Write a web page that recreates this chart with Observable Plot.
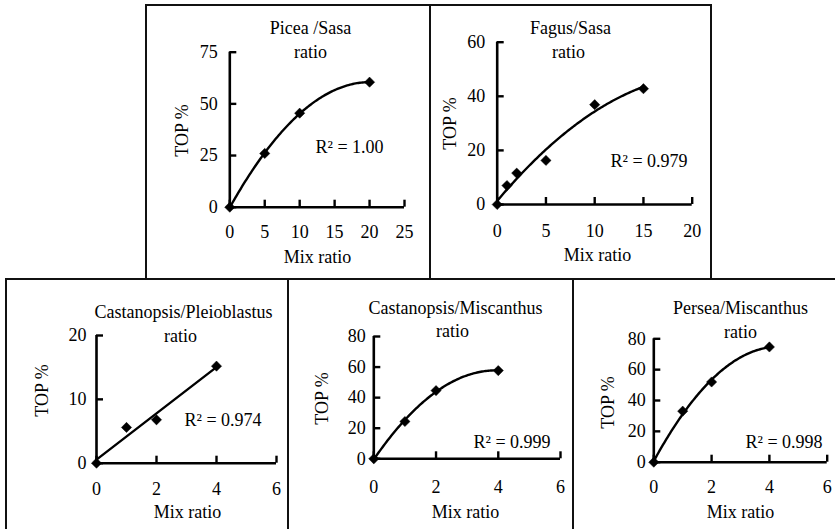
<!DOCTYPE html>
<html><head><meta charset="utf-8">
<script src="https://cdn.jsdelivr.net/npm/d3@7"></script>
<script src="https://cdn.jsdelivr.net/npm/@observablehq/plot@0.6"></script>
<style>
html,body{margin:0;padding:0;background:#fff;}
#wrap{position:relative;width:835px;height:529px;overflow:hidden;background:#fff;}
.box{position:absolute;border:2px solid #111;box-sizing:border-box;}
.panel{position:absolute;}
.panel svg{overflow:visible;}
</style></head><body><div id="wrap"></div>
<script>
// ---- data ----
const piceaX = [0, 5, 10, 20];
const piceaY = [0, 26, 45.5, 60.5];
const piceaXTicks = [0, 5, 10, 15, 20, 25];
const piceaYTicks = [0, 25, 50, 75];
const piceaTitle = ["Picea /Sasa", "ratio"];
const piceaR2 = "R² = 1.00";

const fagusX = [0, 1, 2, 5, 10, 15];
const fagusY = [0, 7, 11.6, 16.3, 36.9, 42.8];
const fagusXTicks = [0, 5, 10, 15, 20];
const fagusYTicks = [0, 20, 40, 60];
const fagusTitle = ["Fagus/Sasa", "ratio"];
const fagusR2 = "R² = 0.979";

const castPleioX = [0, 1, 2, 4];
const castPleioY = [0, 5.6, 6.8, 15.2];
const castPleioXTicks = [0, 2, 4, 6];
const castPleioYTicks = [0, 10, 20];
const castPleioTitle = ["Castanopsis/Pleioblastus", "ratio"];
const castPleioR2 = "R² = 0.974";

const castMiscX = [0, 1, 2, 4];
const castMiscY = [0, 24.4, 44.6, 57.7];
const castMiscXTicks = [0, 2, 4, 6];
const castMiscYTicks = [0, 20, 40, 60, 80];
const castMiscTitle = ["Castanopsis/Miscanthus", "ratio"];
const castMiscR2 = "R² = 0.999";

const perseaX = [0, 1, 2, 4];
const perseaY = [0, 33.1, 52, 74.7];
const perseaXTicks = [0, 2, 4, 6];
const perseaYTicks = [0, 20, 40, 60, 80];
const perseaTitle = ["Persea/Miscanthus", "ratio"];
const perseaR2 = "R² = 0.998";

const yLabel = "TOP %";
const xLabel = "Mix ratio";

// ---- quadratic least-squares trendline (as in the source's trendlines) ----
function fit2(xs, ys) {
  const s = [0, 0, 0, 0, 0], t = [0, 0, 0];
  xs.forEach((x, i) => {
    for (let k = 0; k < 5; k++) s[k] += Math.pow(x, k);
    for (let k = 0; k < 3; k++) t[k] += ys[i] * Math.pow(x, k);
  });
  const M = [[s[0], s[1], s[2]], [s[1], s[2], s[3]], [s[2], s[3], s[4]]];
  const det = m => m[0][0]*(m[1][1]*m[2][2]-m[1][2]*m[2][1]) - m[0][1]*(m[1][0]*m[2][2]-m[1][2]*m[2][0]) + m[0][2]*(m[1][0]*m[2][1]-m[1][1]*m[2][0]);
  const D = det(M);
  const coef = [0, 1, 2].map(j => det(M.map((row, i) => row.map((v, k) => k === j ? t[i] : v))) / D);
  return x => coef[0] + coef[1] * x + coef[2] * x * x;
}

const wrap = document.getElementById("wrap");

function panel(cfg) {
  const {box, px, xs, ys, xTicks, yTicks, title, r2, fit} = cfg;
  const W = box.r - box.l, H = box.b - box.t;
  const b = document.createElement("div");
  b.className = "box";
  Object.assign(b.style, {left: (box.l - 1) + "px", top: (box.t - 1) + "px", width: (W + 2) + "px", height: (H + 2) + "px"});
  wrap.appendChild(b);

  const xmax = xTicks[xTicks.length - 1], ymax = yTicks[yTicks.length - 1];
  const at = (ax, ay) => ({frameAnchor: "top-left", dx: ax - px.x0, dy: ay - px.y1});
  const data = xs.map((x, i) => ({x, y: ys[i]}));
  let trend;
  if (fit === "linear") {
    trend = Plot.linearRegressionY(data, {x: "x", y: "y", ci: 0, stroke: "#000", strokeWidth: 2.4});
  } else {
    const f = fit2(xs, ys);
    const xm = d3.max(xs);
    const pts = d3.range(0, 101).map(i => ({x: xm * i / 100, y: f(xm * i / 100)}));
    trend = Plot.line(pts, {x: "x", y: "y", stroke: "#000", strokeWidth: 2.4});
  }
  const txt = {fill: "#000", fontSize: 18};
  const chart = Plot.plot({
    width: W, height: H,
    marginLeft: px.x0 - box.l, marginRight: box.r - px.x1,
    marginTop: px.y1 - box.t, marginBottom: box.b - px.y0,
    x: {domain: [0, xmax], axis: null},
    y: {domain: [0, ymax], axis: null},
    style: {fontFamily: "'Liberation Serif', 'Times New Roman', serif", fontSize: "18px", color: "#000", background: "transparent", overflow: "visible"},
    marks: [
      Plot.axisX(xTicks, {tickSize: -7, strokeWidth: 2.4, fill: "none", label: null}),
      Plot.axisY(yTicks, {tickSize: -7, strokeWidth: 2.4, fill: "none", label: null}),
      Plot.axisX(xTicks, {tickSize: 0, tickPadding: px.xlab - 7, label: null, fill: "#000", fontSize: 18}),
      Plot.axisY(yTicks, {tickSize: 0, tickPadding: px.ylab, label: null, fill: "#000", fontSize: 18}),
      Plot.ruleY([0], {x1: 0, x2: xmax, stroke: "#000", strokeWidth: 2.6}),
      Plot.ruleX([0], {y1: 0, y2: ymax, stroke: "#000", strokeWidth: 2.6}),
      trend,
      Plot.dot(data, {x: "x", y: "y", symbol: "diamond2", fill: "#000", stroke: "#000", strokeWidth: 0.5, r: 4.6}),
      Plot.text([title[0]], {...at(px.t1[0], px.t1[1]), text: d => d, textAnchor: "middle", lineAnchor: "middle", ...txt}),
      Plot.text([title[1]], {...at(px.t2[0], px.t2[1]), text: d => d, textAnchor: "middle", lineAnchor: "middle", ...txt}),
      Plot.text([r2], {...at(px.r2[0], px.r2[1]), text: d => d, textAnchor: "start", lineAnchor: "middle", ...txt}),
      Plot.text([xLabel], {...at(px.xl[0], px.xl[1]), text: d => d, textAnchor: "middle", lineAnchor: "middle", ...txt}),
      Plot.text([yLabel], {...at(px.yl[0], px.yl[1]), text: d => d, textAnchor: "middle", lineAnchor: "middle", rotate: -90, ...txt})
    ]
  });
  const holder = document.createElement("div");
  holder.className = "panel";
  Object.assign(holder.style, {left: box.l + "px", top: box.t + "px", width: W + "px", height: H + "px"});
  holder.appendChild(chart);
  wrap.appendChild(holder);
}

panel({
  box: {l: 146, t: 5, r: 430, b: 279},
  px: {x0: 229.3, x1: 404, y0: 206.7, y1: 51.7, xlab: 25, ylab: 12,
       t1: [310, 28], t2: [310, 52], r2: [315, 147], xl: [317, 257], yl: [182, 130]},
  xs: piceaX, ys: piceaY, xTicks: piceaXTicks, yTicks: piceaYTicks, title: piceaTitle, r2: piceaR2, fit: "poly"
});
panel({
  box: {l: 430, t: 5, r: 711, b: 279},
  px: {x0: 496.7, x1: 691.7, y0: 204, y1: 41.7, xlab: 27, ylab: 12,
       t1: [570, 28], t2: [568, 52], r2: [610, 161], xl: [597, 255], yl: [450, 123]},
  xs: fagusX, ys: fagusY, xTicks: fagusXTicks, yTicks: fagusYTicks, title: fagusTitle, r2: fagusR2, fit: "poly"
});
panel({
  box: {l: 6, t: 279, r: 288, b: 531},
  px: {x0: 96, x1: 276, y0: 462.7, y1: 335, xlab: 25.6, ylab: 10,
       t1: [183, 312], t2: [180, 336], r2: [184, 420], xl: [187, 512], yl: [42, 390]},
  xs: castPleioX, ys: castPleioY, xTicks: castPleioXTicks, yTicks: castPleioYTicks, title: castPleioTitle, r2: castPleioR2, fit: "linear"
});
panel({
  box: {l: 288, t: 279, r: 573, b: 531},
  px: {x0: 373.3, x1: 560, y0: 458.3, y1: 336, xlab: 28.4, ylab: 8,
       t1: [455, 308], t2: [452, 331], r2: [473, 442], xl: [465, 512], yl: [322, 398]},
  xs: castMiscX, ys: castMiscY, xTicks: castMiscXTicks, yTicks: castMiscYTicks, title: castMiscTitle, r2: castMiscR2, fit: "poly"
});
panel({
  box: {l: 573, t: 279, r: 837, b: 531},
  px: {x0: 653.3, x1: 826.7, y0: 461.7, y1: 338.3, xlab: 25, ylab: 8,
       t1: [740, 308], t2: [740, 332], r2: [745, 442], xl: [740, 512], yl: [608, 402]},
  xs: perseaX, ys: perseaY, xTicks: perseaXTicks, yTicks: perseaYTicks, title: perseaTitle, r2: perseaR2, fit: "poly"
});
</script>
</body></html>
